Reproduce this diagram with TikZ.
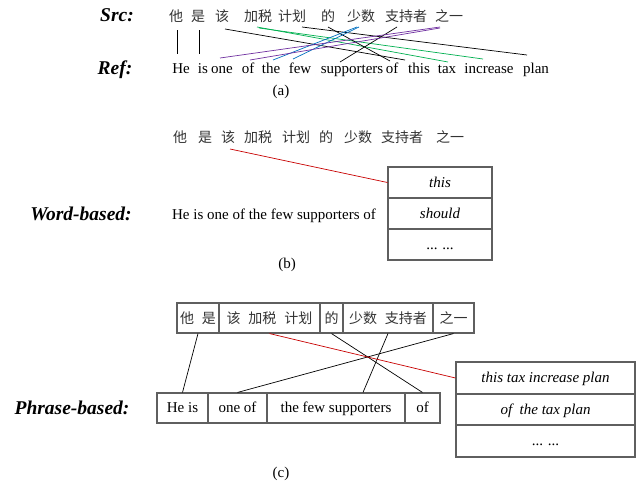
\documentclass[tikz,border=0pt]{standalone}
\usepackage{fontspec}
\setmainfont{Liberation Serif}
\newfontfamily\zhfont{Noto Sans CJK SC}
\usetikzlibrary{calc}
\definecolor{lgreen}{RGB}{0,176,80}
\definecolor{lblue}{RGB}{0,112,192}
\definecolor{lpurple}{RGB}{112,48,160}
\definecolor{lred}{RGB}{200,0,0}
\definecolor{boxgray}{RGB}{95,95,95}
\tikzset{
  zh/.style={font=\zhfont\fontsize{14}{16}\selectfont, inner sep=0pt, text=black!80},
  en/.style={font=\fontsize{15}{18}\selectfont, inner sep=0pt, text height=11.5pt, text depth=2.5pt},
  lab/.style={font=\bfseries\itshape\fontsize{19.5}{22}\selectfont, inner sep=0pt, text height=14pt, text depth=4pt},
  cell/.style={draw=boxgray, line width=1.1pt, minimum height=30pt, inner sep=0pt},
  zhcell/.style={cell, font=\zhfont\fontsize{14}{16}\selectfont, text=black!80},
  encell/.style={cell, font=\fontsize{15}{18}\selectfont, text height=11.5pt, text depth=2.5pt},
  itcell/.style={cell, font=\itshape\fontsize{15}{18}\selectfont, text height=11.5pt, text depth=2.5pt},
  link/.style={line width=0.7pt},
}
\newcommand{\zsp}{\hspace{8pt}}
\begin{document}
\begin{tikzpicture}[x=1pt,y=-1pt]
\fill[white] (0,0) rectangle (641,485);
\useasboundingbox (0,0) rectangle (641,485);

% ---------------- (a)
\node[lab] (src) at (117,16) {Src:};
\node[lab] (ref) at (115,69) {Ref:};
\node[zh] (a1) at (176,16) {他};
\node[zh] (a2) at (198,16) {是};
\node[zh] (a3) at (222,16) {该};
\node[zh] (a4) at (258,16) {加税};
\node[zh] (a5) at (292,16) {计划};
\node[zh] (a6) at (328,16) {的};
\node[zh] (a7) at (361,16) {少数};
\node[zh] (a8) at (406,16) {支持者};
\node[zh] (a9) at (449,16) {之一};

\node[en] (e1) at (181,69) {He};
\node[en] (e2) at (203,69) {is};
\node[en] (e3) at (222,69) {one};
\node[en] (e4) at (248,69) {of};
\node[en] (e5) at (271,69) {the};
\node[en] (e6) at (300,69) {few};
\node[en] (e7) at (352,69) {supporters};
\node[en] (e8) at (392,69) {of};
\node[en] (e9) at (419,69) {this};
\node[en] (e10) at (447,69) {tax};
\node[en] (e11) at (489,69) {increase};
\node[en] (e12) at (536,69) {plan};
\node[en] (capa) at (281,91) {(a)};

\draw[link] ($(a1)+(1,14)$) -- ($(e1)+(-4,-15)$);
\draw[link] ($(a2)+(1,14)$) -- ($(e2)+(-4,-15)$);
\draw[link] ($(a3)+(3,13)$) -- ($(e9)+(-14,-9)$);
\draw[link,lgreen] ($(a4)+(-1,11)$) -- ($(e10)+(1,-7)$);
\draw[link,lgreen] ($(a4)+(1,12)$) -- ($(e11)+(-6,-10)$);
\draw[link] ($(a5)+(10,11)$) -- ($(e12)+(-9,-14)$);
\draw[link] ($(a6)+(0,11)$) -- ($(e8)+(-2,-8)$);
\draw[link,lblue] ($(a7)+(-4,11)$) -- ($(e5)+(2,-9)$);
\draw[link,lblue] ($(a7)+(-2,11)$) -- ($(e6)+(-7,-10)$);
\draw[link] ($(a8)+(-9,11)$) -- ($(e7)+(-12,-7)$);
\draw[link,lpurple] ($(a9)+(-9,11)$) -- ($(e3)+(-2,-11)$);
\draw[link,lpurple] ($(a9)+(-9,12)$) -- ($(e4)+(2,-9)$);

% ---------------- (b)
\node[zh] (b1) at (180,137) {他};
\node[zh] (b2) at (205,137) {是};
\node[zh] (b3) at (228,137) {该};
\node[zh] (b4) at (258,137) {加税};
\node[zh] (b5) at (296,137) {计划};
\node[zh] (b6) at (326,137) {的};
\node[zh] (b7) at (358,137) {少数};
\node[zh] (b8) at (402,137) {支持者};
\node[zh] (b9) at (450,137) {之一};

\node[lab] (wb) at (81,215) {Word-based:};
\node[en] (hyp) at (274,215) {He is one of the few supporters of};
\node[itcell, minimum width=104pt, minimum height=31pt] (w1) at (440,182.5) {this};
\node[itcell, minimum width=104pt, minimum height=31pt] (w2) at (440,213.5) {should};
\node[encell, minimum width=104pt, minimum height=31pt] (w3) at (440,244.5) {... ...};
\node[en] (capb) at (287,264) {(b)};
\draw[link,lred] ($(b3)+(2,12)$) -- (w1.west);

% ---------------- (c)
\node[zhcell, minimum width=42pt] (t1) at (198,318) {他\zsp 是};
\node[zhcell, minimum width=101pt] (t2) at (269.5,318) {该\zsp 加税\zsp 计划};
\node[zhcell, minimum width=23pt] (t3) at (331.5,318) {的};
\node[zhcell, minimum width=90pt] (t4) at (388,318) {少数\zsp 支持者};
\node[zhcell, minimum width=41pt] (t5) at (453.5,318) {之一};

\node[lab] (pb) at (72,409) {Phrase-based:};
\node[encell, minimum width=51pt] (p1) at (182.5,408) {He is};
\node[encell, minimum width=59pt] (p2) at (237.5,408) {one of};
\node[encell, minimum width=138pt] (p3) at (336,408) {the few supporters};
\node[encell, minimum width=35pt] (p4) at (422.5,408) {of};

\node[itcell, minimum width=179pt, minimum height=32pt] (r1) at (545.5,378) {this tax increase plan};
\node[itcell, minimum width=179pt, minimum height=31pt] (r2) at (545.5,409.5) {of\ \ the tax plan};
\node[encell, minimum width=179pt, minimum height=32pt] (r3) at (545.5,441) {... ...};
\node[en] (capc) at (281,473) {(c)};

\draw[link] (t1.south) -- (p1.north);
\draw[link] (t3.south) -- (p4.north);
\draw[link] (t4.south) -- ($(p3.north)+(27,0)$);
\draw[link] (t5.south) -- (p2.north);
\draw[link,lred] (t2.south) -- (r1.west);
\end{tikzpicture}
\end{document}
